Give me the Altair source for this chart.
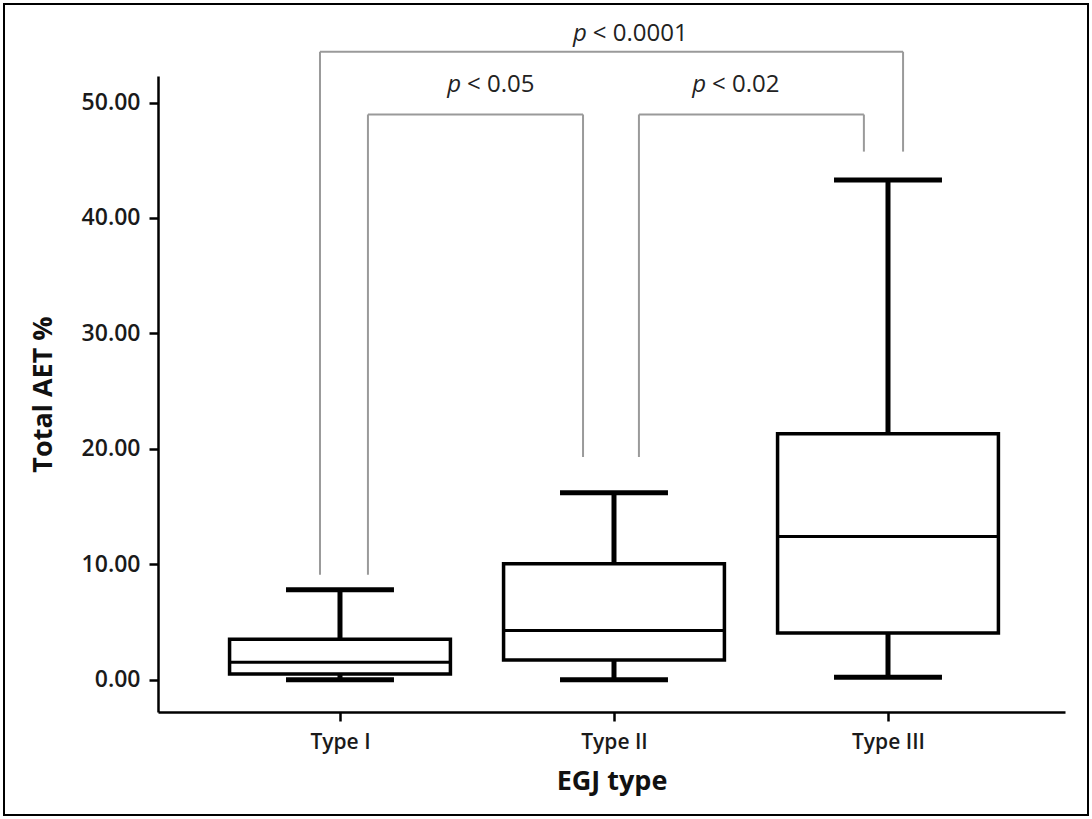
import json
import altair as alt
import pandas as pd

# ---- data ----
categories = ["Type I", "Type II", "Type III"]
positions = [1, 2, 3]
whisker_low = [0.0, 0.0, 0.2]
q1 = [0.5, 1.7, 4.05]
median = [1.5, 4.25, 12.4]
q3 = [3.5, 10.05, 21.3]
whisker_high = [7.8, 16.2, 43.3]

# significance brackets (data units)
p_labels = ["< 0.05", "< 0.02", "< 0.0001"]
bracket_left_x = [1.102, 2.091, 0.927]
bracket_right_x = [1.887, 2.912, 3.055]
bracket_top = [48.96, 48.96, 54.4]
bracket_left_end = [9.1, 19.3, 9.1]
bracket_right_end = [19.3, 45.75, 45.75]
label_anchor_x = [1.442, 2.336, 1.901]
label_y = [50.9, 50.9, 55.3]

FONT = "Open Sans"
BOX_HALF = 0.403
CAP_HALF = 0.197
X_DOMAIN = [0.3358, 3.646]
Y_DOMAIN = [-2.8, 52.3]

box_df = pd.DataFrame({
    "cat": categories, "pos": positions, "lo": whisker_low, "q1": q1,
    "med": median, "q3": q3, "hi": whisker_high,
})
br_df = pd.DataFrame({
    "label": p_labels, "xl": bracket_left_x, "xr": bracket_right_x,
    "top": bracket_top, "le": bracket_left_end, "re": bracket_right_end,
    "tx": label_anchor_x, "ty": label_y,
})

label_expr = "%s[datum.value - 1]" % json.dumps(categories)

xscale = alt.Scale(domain=X_DOMAIN, nice=False, zero=False)
yscale = alt.Scale(domain=Y_DOMAIN, nice=False, zero=False)

x_axis = alt.Axis(values=positions, labelExpr=label_expr, title="EGJ type",
                  grid=False, domainColor="black", domainWidth=2.5,
                  tickColor="black", tickWidth=2.5, tickSize=9,
                  labelFont=FONT, labelFontSize=21, labelFontWeight=600,
                  labelColor="#1a1a1a", labelPadding=10,
                  titleFont=FONT, titleFontSize=27, titleFontWeight="bold",
                  titleColor="#111", titlePadding=16)
y_axis = alt.Axis(values=[0, 10, 20, 30, 40, 50], format=".2f",
                  title="Total AET %", grid=False, domainColor="black",
                  domainWidth=2.5, tickColor="black", tickWidth=2.5,
                  tickSize=9, labelFont=FONT, labelFontSize=23,
                  labelFontWeight=600, labelColor="#1a1a1a", labelPadding=9,
                  titleFont=FONT, titleFontSize=27, titleFontWeight="bold",
                  titleColor="#111", titlePadding=24)

base = alt.Chart(box_df)

whiskers = base.mark_rule(color="black", strokeWidth=5).encode(
    x=alt.X("pos:Q", scale=xscale, axis=x_axis),
    y=alt.Y("lo:Q", scale=yscale, axis=y_axis),
    y2="hi:Q",
)

caps_hi = base.transform_calculate(
    a=f"datum.pos - {CAP_HALF}", b=f"datum.pos + {CAP_HALF}"
).mark_rule(color="black", strokeWidth=5).encode(
    x=alt.X("a:Q", scale=xscale), x2="b:Q", y=alt.Y("hi:Q", scale=yscale)
)
caps_lo = base.transform_calculate(
    a=f"datum.pos - {CAP_HALF}", b=f"datum.pos + {CAP_HALF}"
).mark_rule(color="black", strokeWidth=5).encode(
    x=alt.X("a:Q", scale=xscale), x2="b:Q", y=alt.Y("lo:Q", scale=yscale)
)

boxes = base.transform_calculate(
    a=f"datum.pos - {BOX_HALF}", b=f"datum.pos + {BOX_HALF}"
).mark_rect(fill="white", stroke="black", strokeWidth=3.5).encode(
    x=alt.X("a:Q", scale=xscale), x2="b:Q",
    y=alt.Y("q1:Q", scale=yscale), y2="q3:Q",
)

medians = base.transform_calculate(
    a=f"datum.pos - {BOX_HALF}", b=f"datum.pos + {BOX_HALF}"
).mark_rule(color="black", strokeWidth=3).encode(
    x=alt.X("a:Q", scale=xscale), x2="b:Q", y=alt.Y("med:Q", scale=yscale)
)

bb = alt.Chart(br_df)
GRAY = "#9a9a9a"
br_top = bb.mark_rule(color=GRAY, strokeWidth=2).encode(
    x=alt.X("xl:Q", scale=xscale), x2="xr:Q", y=alt.Y("top:Q", scale=yscale)
)
br_left = bb.mark_rule(color=GRAY, strokeWidth=2).encode(
    x=alt.X("xl:Q", scale=xscale), y=alt.Y("top:Q", scale=yscale), y2="le:Q"
)
br_right = bb.mark_rule(color=GRAY, strokeWidth=2).encode(
    x=alt.X("xr:Q", scale=xscale), y=alt.Y("top:Q", scale=yscale), y2="re:Q"
)
p_text = bb.mark_text(font=FONT, fontSize=24, fontStyle="italic",
                      align="right", baseline="alphabetic",
                      color="#222").encode(
    x=alt.X("tx:Q", scale=xscale), y=alt.Y("ty:Q", scale=yscale),
    text=alt.value("p"),
)
rest_text = bb.mark_text(font=FONT, fontSize=24, align="left",
                         baseline="alphabetic", dx=6, color="#222").encode(
    x=alt.X("tx:Q", scale=xscale), y=alt.Y("ty:Q", scale=yscale),
    text="label:N",
)

frame = alt.Chart(pd.DataFrame({"k": [0]})).mark_rect(
    fill=None, stroke="black", strokeWidth=2
).encode(
    x=alt.value(-154), x2=alt.value(930), y=alt.value(-72), y2=alt.value(739)
)

chart = alt.layer(
    br_top, br_left, br_right, p_text, rest_text,
    whiskers, caps_hi, caps_lo, boxes, medians, frame
).properties(
    width=907, height=636,
    autosize=alt.AutoSizeParams(type="none"),
    padding={"left": 158, "top": 76, "right": 27, "bottom": 107},
    background="white",
).configure_view(stroke=None)

chart.save("out.html", embed_options={"renderer": "svg", "actions": False})
